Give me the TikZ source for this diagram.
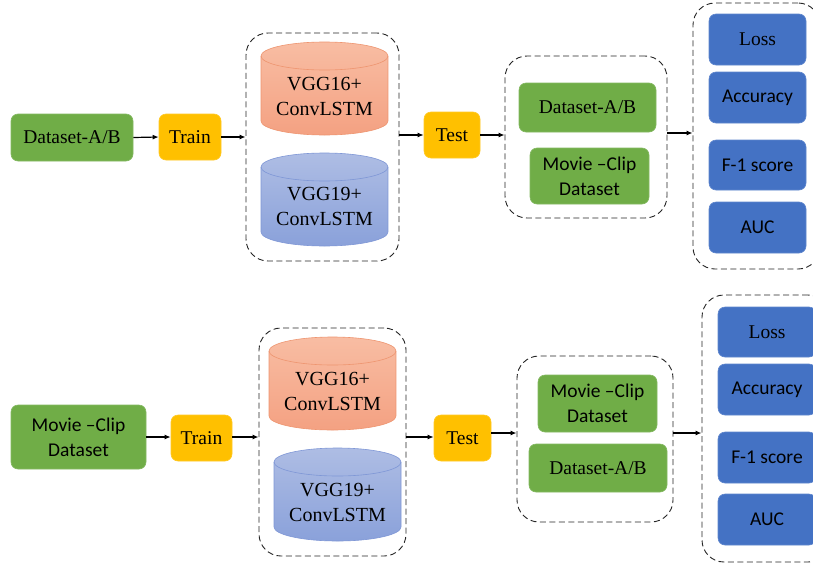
\documentclass[tikz,border=0pt]{standalone}
\usepackage{fontspec}
\setmainfont{Liberation Serif}
\newfontfamily\timesfont{Liberation Serif}
\newfontfamily\calibrifont{Carlito}
\usetikzlibrary{arrows.meta,calc}
\definecolor{gfill}{HTML}{70AD47}
\definecolor{yfill}{HTML}{FFC000}
\definecolor{bfill}{HTML}{4472C4}
\definecolor{otop}{HTML}{F8BDA3}
\definecolor{obot}{HTML}{F4A182}
\definecolor{oedge}{HTML}{EE9570}
\definecolor{btop}{HTML}{AEBDE4}
\definecolor{bbot}{HTML}{8AA1DA}
\definecolor{bedge}{HTML}{7F97D6}
\begin{document}
\begin{tikzpicture}[x=1pt,y=-1pt,
  box/.style={rectangle,rounded corners=7pt,inner sep=0pt,align=center,text=black,font=\timesfont\fontsize{19.5}{24}\selectfont},
  gbox/.style={box,fill=gfill,draw=gfill!85!white,line width=0.6pt},
  ybox/.style={box,fill=yfill,draw=yfill!85!white,line width=0.6pt},
  mbox/.style={box,fill=bfill,draw=bfill!85!white,line width=0.6pt,minimum width=97pt},
  sans/.style={font=\calibrifont\fontsize{19.5}{25}\selectfont},
  grp/.style={rectangle,draw=black!85,dash pattern=on 6pt off 3.5pt,line width=0.9pt,rounded corners=22pt,inner sep=0pt},
  cyltext/.style={align=center,font=\timesfont\fontsize{20}{25}\selectfont,inner sep=0pt},
  arr/.style={-{Latex[length=6pt,width=5pt]},line width=1.2pt,black}]
\useasboundingbox (0,0) rectangle (813,565);
\fill[white] (0,0) rectangle (813,565);
% ---------- top row ----------
\node[gbox,minimum width=122pt,minimum height=47pt] (d1) at (72,137.5) {Dataset-A/B};
\node[ybox,minimum width=62pt,minimum height=46pt] (tr1) at (190,137) {Train};
\node[grp,minimum width=153pt,minimum height=228pt] (box1) at (322.5,147) {};
% cylinder 1a
\path[top color=otop,bottom color=obot,draw=oedge,line width=0.6pt]
  (261,56) -- (261,121) arc[start angle=180,end angle=0,x radius=63.5,y radius=14]
  -- (388,56) arc[start angle=0,end angle=-180,x radius=63.5,y radius=14] -- cycle;
\draw[oedge,line width=0.6pt] (261,56) arc[start angle=180,end angle=0,x radius=63.5,y radius=14];
\node[cyltext] (c1a) at (324.5,96) {VGG16+\\ConvLSTM};
% cylinder 1b
\path[top color=btop,bottom color=bbot,draw=bedge,line width=0.6pt]
  (261,167) -- (261,232) arc[start angle=180,end angle=0,x radius=63.5,y radius=14]
  -- (388,167) arc[start angle=0,end angle=-180,x radius=63.5,y radius=14] -- cycle;
\draw[bedge,line width=0.6pt] (261,167) arc[start angle=180,end angle=0,x radius=63.5,y radius=14];
\node[cyltext] (c1b) at (324.5,206) {VGG19+\\ConvLSTM};
\node[ybox,minimum width=56pt,minimum height=46pt] (te1) at (452,135) {Test};
\node[grp,minimum width=162pt,minimum height=162pt] (box2) at (586,137) {};
\node[gbox,minimum width=137pt,minimum height=49pt] (g1) at (587.5,107.5) {Dataset-A/B};
\node[gbox,sans,minimum width=119pt,minimum height=56pt] (g2) at (589.5,176) {Movie –Clip\\Dataset};
\node[grp,minimum width=127pt,minimum height=266pt] (box3) at (756.5,136) {};
\node[mbox,minimum height=51pt] (m1) at (757.5,39.5) {Loss};
\node[mbox,sans,minimum height=51pt] (m2) at (757.5,97.5) {Accuracy};
\node[mbox,sans,minimum height=50pt] (m3) at (757.5,165) {F-1 score};
\node[mbox,sans,minimum height=51pt] (m4) at (757.5,227.5) {AUC};
\draw[arr] (d1.east) -- (tr1.west);
\draw[arr] (tr1.east) -- (tr1.east -| box1.west);
\draw[arr] (box1.east |- te1.west) -- (te1.west);
\draw[arr] (te1.east) -- (te1.east -| box2.west);
\coordinate (o2) at ($(box2.east)+(0,-4)$);
\draw[arr] (o2) -- (o2 -| box3.west);
% ---------- bottom row ----------
\node[gbox,sans,minimum width=135pt,minimum height=64pt] (d2) at (78.5,437) {Movie –Clip\\Dataset};
\node[ybox,minimum width=61pt,minimum height=46pt] (tr2) at (201.5,438) {Train};
\node[grp,minimum width=147pt,minimum height=228pt] (box4) at (332.5,442) {};
% cylinder 2a
\path[top color=otop,bottom color=obot,draw=oedge,line width=0.6pt]
  (269,351) -- (269,416) arc[start angle=180,end angle=0,x radius=63.5,y radius=14]
  -- (396,351) arc[start angle=0,end angle=-180,x radius=63.5,y radius=14] -- cycle;
\draw[oedge,line width=0.6pt] (269,351) arc[start angle=180,end angle=0,x radius=63.5,y radius=14];
\node[cyltext] (c2a) at (332.5,391) {VGG16+\\ConvLSTM};
% cylinder 2b
\path[top color=btop,bottom color=bbot,draw=bedge,line width=0.6pt]
  (274,462) -- (274,527) arc[start angle=180,end angle=0,x radius=63.5,y radius=14]
  -- (401,462) arc[start angle=0,end angle=-180,x radius=63.5,y radius=14] -- cycle;
\draw[bedge,line width=0.6pt] (274,462) arc[start angle=180,end angle=0,x radius=63.5,y radius=14];
\node[cyltext] (c2b) at (337.5,502) {VGG19+\\ConvLSTM};
\node[ybox,minimum width=57pt,minimum height=46pt] (te2) at (462.5,438) {Test};
\node[grp,minimum width=156pt,minimum height=166pt] (box5) at (595,439) {};
\node[gbox,sans,minimum width=119pt,minimum height=57pt] (g3) at (597.5,403.5) {Movie –Clip\\Dataset};
\node[gbox,minimum width=138pt,minimum height=48pt] (g4) at (598,468) {Dataset-A/B};
\node[grp,minimum width=128pt,minimum height=267pt] (box6) at (766,428.5) {};
\node[mbox,minimum width=98pt,minimum height=50pt] (n1) at (767,332) {Loss};
\node[mbox,sans,minimum width=98pt,minimum height=51pt] (n2) at (767,389.5) {Accuracy};
\node[mbox,sans,minimum width=98pt,minimum height=51pt] (n3) at (767,457.5) {F-1 score};
\node[mbox,sans,minimum width=98pt,minimum height=51pt] (n4) at (767,519.5) {AUC};
\draw[arr] (d2.east) -- (d2.east -| tr2.west);
\draw[arr] (d2.east -| tr2.east) -- (d2.east -| box4.west);
\draw[arr] (box4.east |- d2.east) -- (d2.east -| te2.west);
\coordinate (o5) at ($(te2.east)+(0,-5)$);
\draw[arr] (o5) -- (o5 -| box5.west);
\draw[arr] (o5 -| box5.east) -- (o5 -| box6.west);
\end{tikzpicture}
\end{document}
